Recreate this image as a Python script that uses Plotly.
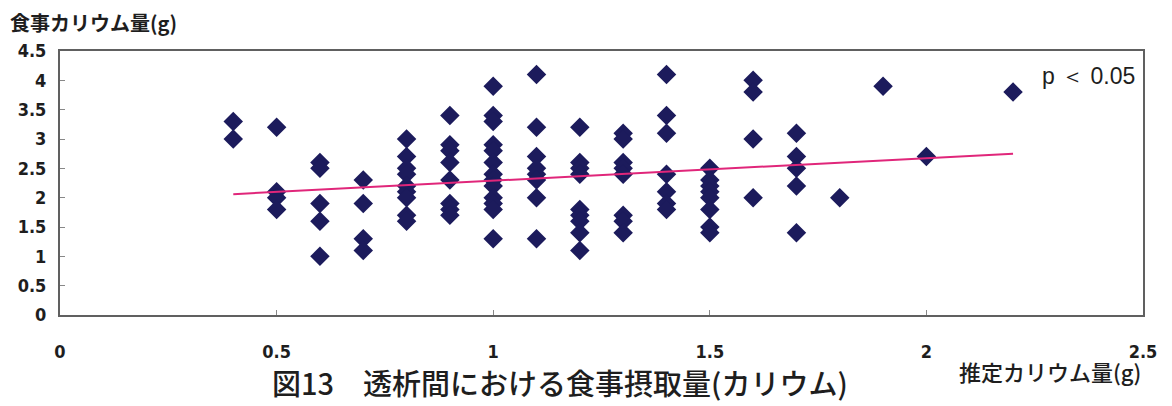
import plotly.graph_objects as go

# Estimated potassium (g) vs. dietary potassium (g), one entry per subject
x_est = (
    [0.4] * 2 + [0.5] * 4 + [0.6] * 5 + [0.7] * 4 + [0.8] * 9 + [0.9] * 8
    + [1.0] * 13 + [1.1] * 8 + [1.2] * 9 + [1.3] * 8 + [1.4] * 7 + [1.5] * 8
    + [1.6] * 4 + [1.7] * 5 + [1.8] + [1.9] + [2.0] + [2.2]
)
y_diet = [
    3.3, 3.0,
    3.2, 2.1, 2.0, 1.8,
    2.6, 2.5, 1.9, 1.6, 1.0,
    2.3, 1.9, 1.3, 1.1,
    3.0, 2.7, 2.5, 2.4, 2.2, 2.1, 2.0, 1.7, 1.6,
    3.4, 2.9, 2.8, 2.6, 2.3, 1.9, 1.8, 1.7,
    3.9, 3.4, 3.3, 2.9, 2.8, 2.6, 2.4, 2.3, 2.2, 2.0, 1.9, 1.8, 1.3,
    4.1, 3.2, 2.7, 2.5, 2.4, 2.3, 2.0, 1.3,
    3.2, 2.6, 2.5, 2.4, 1.8, 1.7, 1.6, 1.4, 1.1,
    3.1, 3.0, 2.6, 2.5, 2.4, 1.7, 1.6, 1.4,
    4.1, 3.4, 3.1, 2.4, 2.1, 1.9, 1.8,
    2.5, 2.3, 2.2, 2.1, 2.0, 1.8, 1.5, 1.4,
    4.0, 3.8, 3.0, 2.0,
    3.1, 2.7, 2.5, 2.2, 1.4,
    2.0,
    3.9,
    2.7,
    3.8,
]

# Linear trend line coefficients
trend_slope = 0.383
trend_intercept = 1.907

x_ticks = [0, 0.5, 1, 1.5, 2, 2.5]
x_tick_text = ["0", "0.5", "1", "1.5", "2", "2.5"]
y_ticks = [0, 0.5, 1, 1.5, 2, 2.5, 3, 3.5, 4, 4.5]
y_tick_text = ["0", "0.5", "1", "1.5", "2", "2.5", "3", "3.5", "4", "4.5"]

NUM_FONT = "Liberation Sans Narrow, DejaVu Sans Condensed, Liberation Sans, sans-serif"
JP_FONT = "Noto Sans CJK JP, sans-serif"
TEXT_COLOR = "#1e1e1e"

fig = go.Figure()

fig.add_trace(go.Scatter(
    x=x_est, y=y_diet, mode="markers",
    marker=dict(symbol="diamond", size=15, color="#1c1b5c",
                line=dict(width=0)),
    showlegend=False, hoverinfo="x+y",
))

x_line = [min(x_est), max(x_est)]
y_line = [trend_intercept + trend_slope * v for v in x_line]
fig.add_trace(go.Scatter(
    x=x_line, y=y_line, mode="lines",
    line=dict(color="#e0267a", width=2),
    showlegend=False, hoverinfo="skip",
))

axis_common = dict(
    showgrid=False, zeroline=False, showline=True, mirror=True,
    linecolor="#606060", linewidth=2,
    ticks="inside", ticklen=5, tickcolor="#888888", tickwidth=1,
    tickfont=dict(family=NUM_FONT, size=18, color=TEXT_COLOR, weight="bold"),
)

fig.update_xaxes(range=[0, 2.5], tickvals=x_ticks, ticktext=x_tick_text,
                 ticklabelstandoff=19, **axis_common)
fig.update_yaxes(range=[0, 4.5], tickvals=y_ticks, ticktext=y_tick_text,
                 ticklabelstandoff=8, **axis_common)

# Y axis title above the plot, top left
fig.add_annotation(
    x=-0.048, y=1.17, xref="paper", yref="paper", xanchor="left", yanchor="top",
    text="食事カリウム量(g)", showarrow=False,
    font=dict(family=JP_FONT, size=20, color=TEXT_COLOR, weight=600),
)

# p-value label inside the plot
fig.add_annotation(
    x=0.994, y=0.962, xref="paper", yref="paper",
    xanchor="right", yanchor="top",
    text="p ＜ 0.05", showarrow=False,
    font=dict(family="Liberation Sans, Arial, sans-serif", size=23, color=TEXT_COLOR),
)

# X axis title, right side below the axis
fig.add_annotation(
    x=1.0, y=-0.282, xref="paper", yref="paper", xanchor="right", yanchor="bottom",
    text="推定カリウム量(g)", showarrow=False,
    font=dict(family=JP_FONT, size=22, color=TEXT_COLOR, weight=500),
)

# Figure caption
fig.add_annotation(
    x=0.462, y=-0.34, xref="paper", yref="paper", xanchor="center", yanchor="bottom",
    text="図13　透析間における食事摂取量(カリウム)", showarrow=False,
    font=dict(family=JP_FONT, size=29, color=TEXT_COLOR, weight=500),
)

fig.update_layout(
    width=1172, height=406,
    margin=dict(l=60, r=29, t=51, b=91),
    paper_bgcolor="white", plot_bgcolor="white",
)

fig.write_html("out.html")
